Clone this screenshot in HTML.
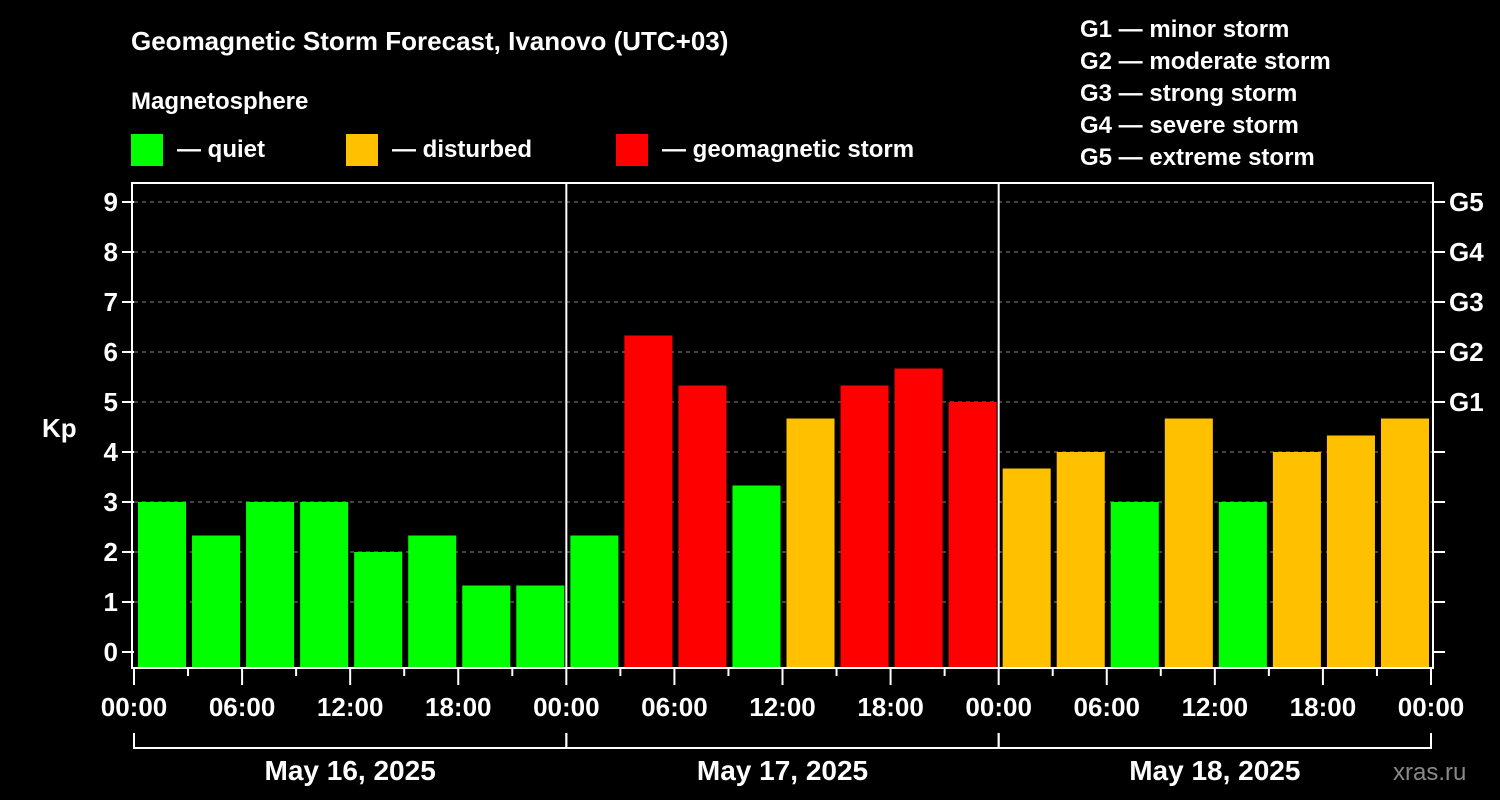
<!DOCTYPE html>
<html><head><meta charset="utf-8"><style>
body{margin:0;background:#000;}
svg{display:block;font-family:"Liberation Sans",Arial,sans-serif;font-weight:bold;}
</style></head><body>
<svg id="chart" width="1500" height="800" viewBox="0 0 1500 800">
<rect width="1500" height="800" fill="#000"/>
<text x="131" y="50" fill="#fff" font-size="26">Geomagnetic Storm Forecast, Ivanovo (UTC+03)</text>
<text x="131" y="109" fill="#fff" font-size="24">Magnetosphere</text>
<g><rect x="131" y="134" width="32" height="32" fill="#00ff00"/><text x="177" y="157" fill="#fff" font-size="24">— quiet</text></g>
<g><rect x="346" y="134" width="32" height="32" fill="#ffc000"/><text x="392" y="157" fill="#fff" font-size="24">— disturbed</text></g>
<g><rect x="616" y="134" width="32" height="32" fill="#ff0000"/><text x="662" y="157" fill="#fff" font-size="24">— geomagnetic storm</text></g>
<g fill="#fff" font-size="24">
<text x="1080" y="37">G1 — minor storm</text>
<text x="1080" y="69">G2 — moderate storm</text>
<text x="1080" y="101">G3 — strong storm</text>
<text x="1080" y="133">G4 — severe storm</text>
<text x="1080" y="165">G5 — extreme storm</text>
</g>
<text x="42" y="437" fill="#fff" font-size="26">Kp</text>
<text x="1393" y="780" fill="#888" font-size="24" font-weight="normal">xras.ru</text>
<g id="grid"></g><g id="bars"></g><g id="axes"></g>
</svg>
<script>
const days = ["May 16, 2025","May 17, 2025","May 18, 2025"];
const kpValues = [3,2.33,3,3,2,2.33,1.33,1.33, 2.33,6.33,5.33,3.33,4.67,5.33,5.67,5, 3.67,4,3,4.67,3,4,4.33,4.67];
const yTicks = [0,1,2,3,4,5,6,7,8,9];
const gLabels = ["G1","G2","G3","G4","G5"];
const xTickLabels = ["00:00","06:00","12:00","18:00"];
const NS="http://www.w3.org/2000/svg";
const L=134, R=1433, T=183, B=667;
const dayW=(R-L-2)/days.length; // ~432
const slotW=dayW/8;
function xs(i){return L+i*slotW;}
function ys(v){return 652-v*50;}
function mk(tag,attrs,parent){const e=document.createElementNS(NS,tag);for(const k in attrs)e.setAttribute(k,attrs[k]);document.getElementById(parent).appendChild(e);return e;}
function color(v){return v>=5?"#ff0000":(v>=3.67?"#ffc000":"#00ff00");}
yTicks.forEach(v=>{
 if(v>0){const g=mk("line",{x1:L,x2:R,y1:ys(v),y2:ys(v),stroke:"#888","stroke-dasharray":"4,4","stroke-width":1},"grid");
 
 }
 const t=mk("line",{x1:L-12,x2:L,y1:ys(v),y2:ys(v),stroke:"#fff","stroke-width":2},"axes");
 
 
 const tr=mk("line",{x1:R,x2:R+12,y1:ys(v),y2:ys(v),stroke:"#fff","stroke-width":2},"axes");
 
 
 const lb=mk("text",{x:L-16,y:ys(v)+9,fill:"#fff","font-size":26,"text-anchor":"end"},"axes");
 lb.textContent=v;
 
 
 if(v>=5){const gl=mk("text",{x:R+16,y:ys(v)+9,fill:"#fff","font-size":26},"axes");
 gl.textContent=gLabels[v-5];
 
 }
});
kpValues.forEach((v,i)=>{
 const b=mk("rect",{x:xs(i)+4,y:ys(v),width:slotW-6,height:B-ys(v),fill:color(v)},"bars");
 
 
});
mk("rect",{x:L-2,y:T,width:R-L+2,height:B-T+1,fill:"none",stroke:"#fff","stroke-width":2},"axes");
for(let d=1;d<days.length;d++){const s=mk("line",{x1:xs(d*8),x2:xs(d*8),y1:T,y2:B,stroke:"#fff","stroke-width":2},"axes");
 
 }
for(let i=0;i<=kpValues.length;i++){
 const major=i%2===0;
 const t=mk("line",{x1:xs(i),x2:xs(i),y1:B,y2:B+(major?18:9),stroke:"#fff","stroke-width":2},"axes");
 
 
 if(major){const lb=mk("text",{x:xs(i),y:716,fill:"#fff","font-size":26,"text-anchor":"middle"},"axes");
 lb.textContent=xTickLabels[(i/2)%4];
 
 }
}
days.forEach((d,k)=>{
 const x0=xs(k*8), x1=xs(k*8+8);
 const p=mk("path",{d:`M${x0},733V748H${x1}V733`,fill:"none",stroke:"#fff","stroke-width":2},"axes");
 
 
 const t=mk("text",{x:(x0+x1)/2,y:780,fill:"#fff","font-size":28,"text-anchor":"middle"},"axes");
 t.textContent=d;
 
 
});
</script>
</body></html>
